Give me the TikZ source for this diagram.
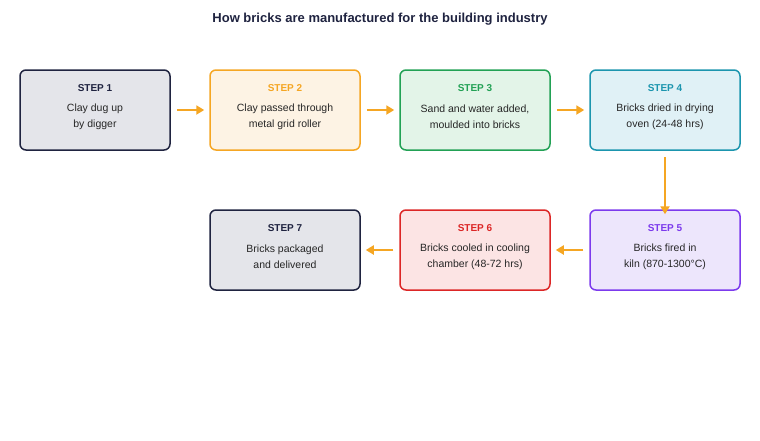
\documentclass[tikz,border=0pt]{standalone}
\usepackage{fontspec}
\setmainfont{Liberation Sans}
\usetikzlibrary{arrows.meta}
\definecolor{c1}{HTML}{1F2340}\definecolor{f1}{HTML}{E4E5EA}
\definecolor{c2}{HTML}{F5A623}\definecolor{f2}{HTML}{FDF3E4}
\definecolor{c3}{HTML}{22A155}\definecolor{f3}{HTML}{E3F4E8}
\definecolor{c4}{HTML}{1B95AE}\definecolor{f4}{HTML}{E0F1F6}
\definecolor{c5}{HTML}{7C3AED}\definecolor{f5}{HTML}{EDE6FC}
\definecolor{c6}{HTML}{DC2626}\definecolor{f6}{HTML}{FCE4E4}
\definecolor{arr}{HTML}{F5A623}
\begin{document}
\begin{tikzpicture}[x=1pt,y=-1pt,
  box/.style={draw=#1,line width=1.5pt,rounded corners=6pt,minimum width=150pt,minimum height=80pt,inner sep=0pt},
  st/.style={font=\fontsize{10}{12}\selectfont\bfseries,text=#1},
  bd/.style={font=\fontsize{10.5}{16}\selectfont,text=black!85,align=center},
  ar/.style={draw=arr,line width=2pt,-{Triangle[length=8pt,width=9pt]}}]
\useasboundingbox (0,0) rectangle (760,440);
\node[font=\fontsize{13}{15}\selectfont\bfseries,text=c1] (title) at (380,19) {How bricks are manufactured for the building industry};
\foreach \n/\x/\y/\c/\f/\t/\b in {
 1/95/110/c1/f1/STEP 1/{Clay dug up\\by digger},
 2/285/110/c2/f2/STEP 2/{Clay passed through\\metal grid roller},
 3/475/110/c3/f3/STEP 3/{Sand and water added,\\moulded into bricks},
 4/665/110/c4/f4/STEP 4/{Bricks dried in drying\\oven (24-48 hrs)},
 5/665/250/c5/f5/STEP 5/{Bricks fired in\\kiln (870-1300°C)},
 6/475/250/c6/f6/STEP 6/{Bricks cooled in cooling\\chamber (48-72 hrs)},
 7/285/250/c1/f1/STEP 7/{Bricks packaged\\and delivered}}{
 \node[box=\c,fill=\f] (b\n) at (\x,\y) {};
 \node[st=\c] (s\n) at (\x,\y-22) {\t};
 \node[bd] (t\n) at (\x,\y+7) {\b};
}
\draw[ar] (b1.east)++(6,0) -- ([xshift=-5pt]b2.west);
\draw[ar] (b2.east)++(6,0) -- ([xshift=-5pt]b3.west);
\draw[ar] (b3.east)++(6,0) -- ([xshift=-5pt]b4.west);
\draw[ar] (b4.south)++(0,6) -- ([yshift=-5pt]b5.north);
\draw[ar] (b5.west)++(-6,0) -- ([xshift=5pt]b6.east);
\draw[ar] (b6.west)++(-6,0) -- ([xshift=5pt]b7.east);
\end{tikzpicture}
\end{document}
